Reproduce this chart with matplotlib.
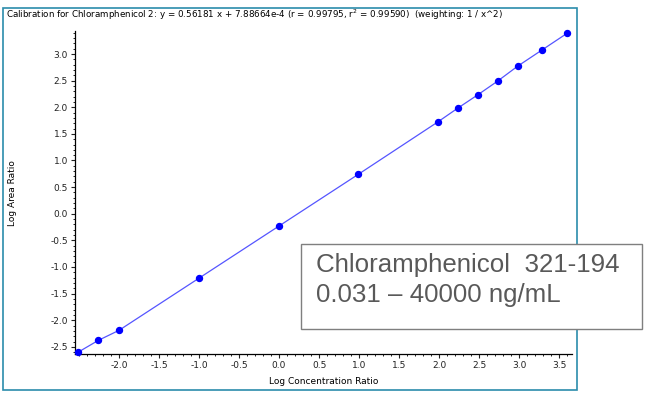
import numpy as np
import matplotlib.pyplot as plt
from matplotlib.patches import Rectangle
from matplotlib.ticker import MultipleLocator

# calibration points (log concentration ratio, log area ratio)
log_conc = [-2.51, -2.26, -2.0, -1.0, 0.0, 0.99, 1.98, 2.23, 2.48, 2.73, 2.98, 3.28, 3.60]
log_area = [-2.60, -2.38, -2.19, -1.21, -0.23, 0.74, 1.72, 1.98, 2.23, 2.49, 2.77, 3.07, 3.39]

title = ("Calibration for Chloramphenicol 2: y = 0.56181 x + 7.88664e-4 "
         "(r = 0.99795, r$^2$ = 0.99590)  (weighting: 1 / x^2)")
box_lines = ["Chloramphenicol  321-194", "0.031 \u2013 40000 ng/mL"]

fig = plt.figure(figsize=(6.47, 3.94), dpi=100)

# teal frame around the chart panel
fig.patches.append(Rectangle((0.0046, 0.0102), 0.887, 0.9695, transform=fig.transFigure,
                             fill=False, edgecolor='#2b8cab', linewidth=1.2))

ax = fig.add_axes([0.1159, 0.1008, 0.7681, 0.8202])
ax.plot(log_conc, log_area, color='#5555ff', linewidth=0.9, zorder=2)
ax.plot(log_conc, log_area, 'o', color='#0000ff', markersize=4.3, clip_on=False, zorder=3)

ax.set_xlim(-2.55, 3.66)
ax.set_ylim(-2.64, 3.43)
ax.xaxis.set_minor_locator(MultipleLocator(0.1))
ax.yaxis.set_minor_locator(MultipleLocator(0.1))
ax.set_xticks(np.arange(-2.0, 3.6, 0.5))
ax.set_yticks(np.arange(-2.5, 3.1, 0.5))
ax.xaxis.set_major_formatter(lambda v, p: f"{v:.1f}")
ax.yaxis.set_major_formatter(lambda v, p: f"{v:.1f}")
ax.tick_params(which='major', length=3, width=0.8, labelsize=6.5, colors='#222222', pad=2)
ax.tick_params(which='minor', length=1.5, width=0.7, colors='#222222')
for s in ['top', 'right']:
    ax.spines[s].set_visible(False)
for s in ['left', 'bottom']:
    ax.spines[s].set_linewidth(0.9)

ax.set_xlabel('Log Concentration Ratio', fontsize=6.5, labelpad=5)
ax.set_ylabel('Log Area Ratio', fontsize=6.5)
ax.yaxis.set_label_coords(-0.117, 0.5)

fig.text(0.010, 0.962, title, fontsize=6.3, ha='left', va='center')

# annotation box
fig.patches.append(Rectangle((0.465, 0.165), 0.527, 0.216, transform=fig.transFigure,
                             facecolor='white', edgecolor='#7f7f7f', linewidth=1.0, zorder=5))
fig.text(0.488, 0.327, box_lines[0], fontsize=18.6, color='#595959', family='Liberation Sans',
         ha='left', va='center', zorder=6)
fig.text(0.488, 0.251, box_lines[1], fontsize=18.6, color='#595959', family='Liberation Sans',
         ha='left', va='center', zorder=6)

fig.savefig('out.png', dpi=100)
